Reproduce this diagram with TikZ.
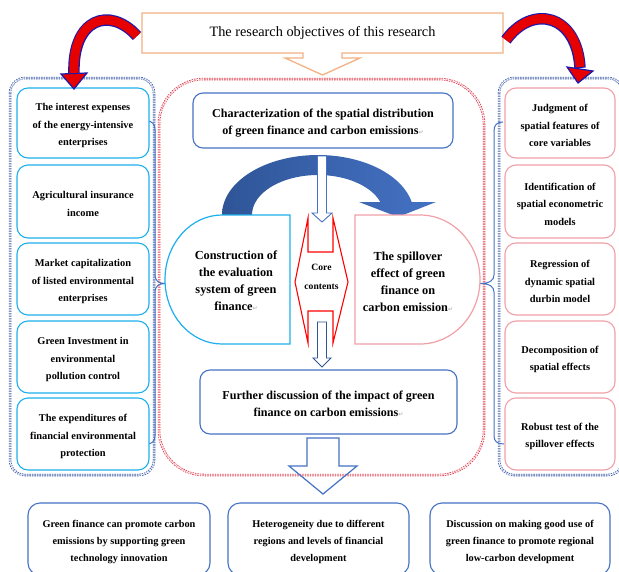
\documentclass[tikz,border=0pt]{standalone}
\usepackage{fontspec}
\setmainfont{Liberation Serif}
\newfontfamily\dejavu{DejaVu Sans}
\definecolor{cyanC}{HTML}{1EB0EE}
\definecolor{pinkC}{HTML}{F2A0A8}
\definecolor{blueC}{HTML}{4472C4}
\definecolor{dblueC}{HTML}{2F5597}
\definecolor{dotBlue}{HTML}{3B5CA8}
\definecolor{dotRed}{HTML}{E03A4A}
\definecolor{orangeC}{HTML}{F4B183}
\definecolor{arrRed}{HTML}{E60000}
\definecolor{arrBlue}{HTML}{1A1AB0}
\newcommand{\pmk}{{\color{gray!55}\dejavu\fontsize{6}{6}\selectfont ↵}}
\begin{document}
\begin{tikzpicture}[x=1pt,y=-1pt,
  dotdouble/.style={line width=0.8pt, double distance=0.9pt, dash pattern=on 1.4pt off 1.1pt},
  lbox/.style={draw=cyanC, line width=1.1pt, rounded corners=11pt, fill=white,
    minimum width=132pt, minimum height=72pt, inner sep=0pt},
  rbox/.style={lbox, draw=pinkC, minimum width=110pt},
  stext/.style={align=center, inner sep=0pt, font=\bfseries\fontsize{10.4}{17.5}\selectfont},
  cbox/.style={draw=blueC, line width=1.1pt, rounded corners=10pt, fill=white, inner sep=0pt},
  ctext/.style={align=center, inner sep=0pt, font=\bfseries\fontsize{12.1}{17}\selectfont},
  bbox/.style={draw=blueC, line width=1.1pt, rounded corners=12pt, fill=white,
    minimum height=72pt, inner sep=0pt},
  btext/.style={align=center, inner sep=0pt, font=\bfseries\fontsize{10.3}{17}\selectfont},
  bracestyle/.style={draw=blueC, line width=1pt},
  whitearrow/.style={draw=blueC, fill=white, line width=0.9pt},
  redarrbody/.style={line width=11.5pt, draw=arrBlue},
  redarrin/.style={line width=9.1pt, draw=arrRed},
  redarrhead/.style={fill=arrRed, draw=arrBlue, line width=1.2pt, line join=miter},
  midtext/.style={align=center, font=\bfseries\fontsize{12.3}{17}\selectfont}
]
\useasboundingbox (0,0) rectangle (619,571);
\clip (0,0) rectangle (619,571);
\fill[white] (0,0) rectangle (619,571);

% outer dotted frames
\draw[dotdouble, draw=dotBlue, rounded corners=15pt] (10,78) rectangle (154,475);
\draw[dotdouble, draw=dotBlue, rounded corners=15pt] (499,78) rectangle (623,475);
\draw[dotdouble, draw=dotRed, rounded corners=45pt] (159,79) rectangle (484,475);

% braces
\coordinate (lbt) at (165,283.5);
\coordinate (rbt) at (480,283.5);
\draw[bracestyle] (147,121) .. controls (152,121) and (155,124) .. (155,130) -- (155,275)
  .. controls (155,280) and (158,283.5) .. (lbt)
  .. controls (158,283.5) and (155,287) .. (155,292) -- (155,436)
  .. controls (155,441) and (152,444) .. (147,444);
\draw[bracestyle] (503,122) .. controls (497,122) and (494,125) .. (494,131) -- (494,275)
  .. controls (494,280) and (490,283.5) .. (rbt)
  .. controls (490,283.5) and (494,287) .. (494,292) -- (494,436)
  .. controls (494,441) and (497,444) .. (504,444);

% left boxes
\node[lbox, minimum height=70pt] (l1) at (83,123) {};
\node[lbox, minimum height=73pt] (l2) at (83,201.5) {};
\node[lbox] (l3) at (83,279) {};
\node[lbox] (l4) at (83,357) {};
\node[lbox] (l5) at (83,434) {};
\node[stext] (l1t) at ([yshift=-2.5pt]l1.center) {The interest expenses\\of the energy-intensive\\enterprises};
\node[stext] (l2t) at ([yshift=-2.5pt]l2.center) {Agricultural insurance\\income};
\node[stext] (l3t) at ([yshift=-2.5pt]l3.center) {Market capitalization\\of listed environmental\\enterprises};
\node[stext] (l4t) at ([yshift=-2.5pt]l4.center) {Green Investment in\\environmental\\pollution control};
\node[stext] (l5t) at ([yshift=-2.5pt]l5.center) {The expenditures of\\financial environmental\\protection};

% right boxes
\node[rbox, minimum height=70pt] (r1) at (560,123) {};
\node[rbox, minimum height=73pt] (r2) at (560,201.5) {};
\node[rbox] (r3) at (560,279) {};
\node[rbox] (r4) at (560,357) {};
\node[rbox] (r5) at (560,434) {};
\node[stext] (r1t) at ([yshift=-2.5pt]r1.center) {Judgment of\\spatial features of\\core variables};
\node[stext] (r2t) at ([yshift=-2.5pt]r2.center) {Identification of\\spatial econometric\\models};
\node[stext] (r3t) at ([yshift=-2.5pt]r3.center) {Regression of\\dynamic spatial\\durbin model};
\node[stext] (r4t) at ([yshift=-2.5pt]r4.center) {Decomposition of\\spatial effects};
\node[stext] (r5t) at ([yshift=-2.5pt]r5.center) {Robust test of the\\spillover effects};

% title callout
\draw[draw=orangeC, line width=1.3pt, fill=white, line join=miter]
  (142,13) -- (503,13) -- (503,53) -- (342,53) -- (342,58) -- (360,58) -- (322.5,75)
  -- (285,58) -- (303,58) -- (303,53) -- (142,53) -- cycle;
\node[font=\fontsize{14.3}{16}\selectfont] (title) at (322.5,33) {The research objectives of this research};

% red curved arrows
\coordinate (la0) at (137,36);
\coordinate (la1) at (74,74);
\draw[redarrbody] (la0) .. controls (110,6) and (72,18) .. (la1);
\draw[redarrhead] (61,74) -- (87,73) -- (74,89) -- cycle;
\draw[redarrin] (la0) .. controls (110,6) and (72,18) .. ([yshift=1pt]la1);
\coordinate (ra0) at (506,40);
\coordinate (ra1) at (580,68);
\draw[redarrbody] (ra0) .. controls (532,4) and (577,14) .. (ra1);
\draw[redarrhead] (567,67) -- (593,71) -- (578,83) -- cycle;
\draw[redarrin] (ra0) .. controls (532,4) and (577,14) .. ([yshift=1pt]ra1);

% centre top box
\node[cbox, minimum width=260pt, minimum height=55pt] (top) at (323,120.5) {};
\node[ctext] (topt) at ([yshift=-2.5pt]top.center)
  {Characterization of the spatial distribution\\of green finance and carbon emissions\pmk};

% dark curved arrow
\shade[left color=dblueC, right color=blueC]
  (222,215) arc[start angle=180, end angle=12.5, x radius=96pt, y radius=60pt]
  -- (436,202) -- (398,217) -- (359,202) -- (380.4,202)
  arc[start angle=18.97, end angle=180, x radius=66pt, y radius=40pt] -- cycle;

% construction / spillover shapes
\draw[draw=cyanC, line width=1.2pt, fill=white]
  (290,215) -- (222,215) arc[start angle=90, end angle=270, x radius=57pt, y radius=64.5pt]
  -- (290,344) -- cycle;
\node[midtext] (cons) at (236,281) {Construction of\\the evaluation\\system of green\\finance\pmk};
\draw[draw=pinkC, line width=1.2pt, fill=white]
  (355,215) -- (420,215) arc[start angle=90, end angle=-90, x radius=60pt, y radius=64.5pt]
  -- (355,344) -- cycle;
\node[midtext] (spill) at (408,282) {The spillover\\effect of green\\finance on\\carbon emission\pmk};

% core contents hexagon
\draw[draw=red, line width=1.1pt, fill=white, line join=miter]
  (308,218) -- (308,252) -- (333,252) -- (333,218) -- (348,282) -- (333,343)
  -- (333,311) -- (308,311) -- (308,343) -- (295,282) -- cycle;
\node[align=center, font=\bfseries\fontsize{9.6}{19}\selectfont] (core) at (321.5,276.5) {Core\\contents};

% white arrows
\draw[whitearrow] (317.5,156) -- (326.5,156) -- (326.5,213) -- (332,213) -- (322,222)
  -- (312,213) -- (317.5,213) -- cycle;
\draw[whitearrow, draw=dblueC] (317.5,322) -- (326.5,322) -- (326.5,358) -- (331,358)
  -- (322,367) -- (313,358) -- (317.5,358) -- cycle;

% further discussion
\node[cbox, minimum width=257pt, minimum height=64pt] (further) at (328.5,402) {};
\node[ctext] (furthert) at ([yshift=-2pt]further.center)
  {Further discussion of the impact of green\\finance on carbon emissions\pmk};

% big down arrow
\draw[draw=blueC, line width=1.2pt, line join=miter]
  (307,438) -- (339,438) -- (339,466) -- (357,466) -- (323,494) -- (289,466) -- (307,466) -- cycle;

% bottom boxes
\node[bbox, minimum width=182pt] (b1) at (119,539) {};
\node[bbox, minimum width=181pt] (b2) at (318.5,539) {};
\node[bbox, minimum width=180pt] (b3) at (520,539) {};
\node[btext] (b1t) at ([yshift=-3pt]b1.center) {Green finance can promote carbon\\emissions by supporting green\\technology innovation};
\node[btext] (b2t) at ([yshift=-3pt]b2.center) {Heterogeneity due to different\\regions and levels of financial\\development};
\node[btext] (b3t) at ([yshift=-3pt]b3.center) {Discussion on making good use of\\green finance to promote regional\\low-carbon development};
\end{tikzpicture}
\end{document}
